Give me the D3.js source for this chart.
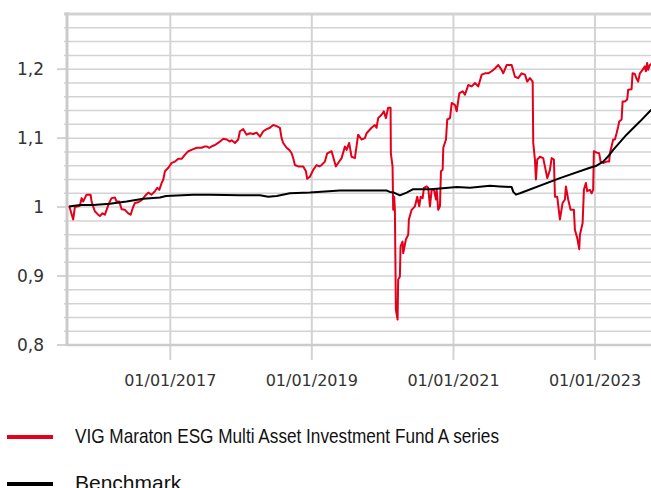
<!DOCTYPE html>
<html>
<head>
<meta charset="utf-8">
<script src="https://cdn.jsdelivr.net/npm/d3@7"></script>
<style>
  html, body { margin: 0; padding: 0; background: #fff; }
  svg { display: block; }
</style>
</head>
<body>
<svg id="chart" width="651" height="488"></svg>
<script>
// Values.
// Dates are given as decimal years, values as index (start = 1).

const yTicks = [0.8, 0.9, 1.0, 1.1, 1.2];
const xTicks = ["2017-01-01", "2019-01-01", "2021-01-01", "2023-01-01"];
const xTickLabels = ["01/01/2017", "01/01/2019", "01/01/2021", "01/01/2023"];
const seriesNames = ["VIG Maraton ESG Multi Asset Investment Fund A series", "Benchmark"];

const fundSeries = [
  [2015.573,1.002],[2015.630,0.982],[2015.654,1.000],[2015.725,1.002],[2015.749,1.013],[2015.771,1.008],
  [2015.819,1.018],[2015.842,1.018],[2015.876,1.018],[2015.890,1.008],[2015.912,1.001],[2015.936,0.994],
  [2015.983,0.989],[2016.007,0.987],[2016.045,0.991],[2016.078,0.989],[2016.102,0.996],[2016.138,1.006],
  [2016.172,1.013],[2016.219,1.014],[2016.243,1.008],[2016.280,1.008],[2016.314,0.997],[2016.360,0.996],
  [2016.407,0.991],[2016.441,0.989],[2016.469,0.998],[2016.501,1.006],[2016.548,1.007],[2016.596,1.010],
  [2016.643,1.016],[2016.689,1.021],[2016.737,1.018],[2016.784,1.023],[2016.816,1.028],[2016.845,1.025],
  [2016.879,1.035],[2016.901,1.040],[2016.925,1.052],[2016.972,1.057],[2017.020,1.064],[2017.066,1.066],
  [2017.113,1.070],[2017.161,1.070],[2017.208,1.076],[2017.254,1.081],[2017.325,1.084],[2017.373,1.086],
  [2017.444,1.086],[2017.490,1.088],[2017.514,1.088],[2017.551,1.086],[2017.585,1.088],[2017.631,1.090],
  [2017.702,1.095],[2017.749,1.099],[2017.797,1.098],[2017.843,1.095],[2017.867,1.097],[2017.914,1.093],
  [2017.960,1.098],[2017.984,1.110],[2018.031,1.113],[2018.079,1.105],[2018.126,1.107],[2018.172,1.106],
  [2018.220,1.108],[2018.267,1.102],[2018.314,1.110],[2018.362,1.113],[2018.408,1.115],[2018.455,1.119],
  [2018.511,1.117],[2018.549,1.115],[2018.573,1.100],[2018.596,1.093],[2018.644,1.086],[2018.681,1.083],
  [2018.715,1.078],[2018.737,1.071],[2018.761,1.061],[2018.808,1.059],[2018.879,1.059],[2018.917,1.052],
  [2018.935,1.041],[2018.973,1.044],[2019.020,1.054],[2019.068,1.061],[2019.105,1.059],[2019.138,1.061],
  [2019.185,1.066],[2019.218,1.078],[2019.280,1.081],[2019.326,1.064],[2019.340,1.059],[2019.373,1.064],
  [2019.421,1.071],[2019.468,1.088],[2019.492,1.083],[2019.528,1.093],[2019.562,1.073],[2019.609,1.071],
  [2019.655,1.105],[2019.703,1.098],[2019.750,1.100],[2019.774,1.107],[2019.845,1.115],[2019.891,1.119],
  [2019.915,1.115],[2019.938,1.129],[2019.986,1.134],[2020.018,1.139],[2020.047,1.129],[2020.079,1.144],
  [2020.113,1.144],[2020.117,1.078],[2020.141,1.059],[2020.150,0.996],[2020.164,1.015],[2020.174,0.996],
  [2020.188,0.851],[2020.212,0.837],[2020.220,0.895],[2020.244,0.899],[2020.254,0.943],[2020.282,0.950],
  [2020.291,0.933],[2020.329,0.953],[2020.362,0.960],[2020.371,0.982],[2020.410,0.996],[2020.456,1.001],
  [2020.489,1.015],[2020.517,1.001],[2020.537,1.015],[2020.565,1.013],[2020.583,1.028],[2020.621,1.030],
  [2020.644,1.028],[2020.668,1.001],[2020.692,1.025],[2020.725,1.025],[2020.753,1.011],[2020.763,1.025],
  [2020.785,0.996],[2020.809,1.001],[2020.823,1.052],[2020.847,1.054],[2020.856,1.086],[2020.894,1.098],
  [2020.912,1.127],[2020.951,1.129],[2020.975,1.151],[2021.021,1.148],[2021.045,1.139],[2021.082,1.165],
  [2021.130,1.168],[2021.162,1.163],[2021.209,1.177],[2021.257,1.175],[2021.304,1.180],[2021.350,1.175],
  [2021.398,1.192],[2021.445,1.194],[2021.491,1.194],[2021.539,1.197],[2021.586,1.201],[2021.633,1.206],
  [2021.681,1.199],[2021.703,1.194],[2021.751,1.206],[2021.822,1.206],[2021.869,1.189],[2021.915,1.187],
  [2021.963,1.194],[2022.010,1.192],[2022.042,1.182],[2022.080,1.187],[2022.119,1.182],[2022.127,1.093],
  [2022.151,1.069],[2022.165,1.040],[2022.184,1.069],[2022.222,1.073],[2022.268,1.071],[2022.292,1.059],
  [2022.325,1.042],[2022.363,1.054],[2022.387,1.071],[2022.419,1.069],[2022.434,1.015],[2022.466,1.015],
  [2022.504,0.982],[2022.542,1.006],[2022.575,1.011],[2022.589,1.030],[2022.621,1.011],[2022.655,0.996],
  [2022.702,0.996],[2022.716,0.967],[2022.749,0.955],[2022.777,0.939],[2022.787,0.960],[2022.825,0.977],
  [2022.843,1.025],[2022.871,1.035],[2022.890,1.023],[2022.928,1.025],[2022.952,1.020],[2022.974,1.025],
  [2022.984,1.081],[2023.022,1.079],[2023.059,1.078],[2023.079,1.066],[2023.116,1.064],[2023.164,1.066],
  [2023.200,1.066],[2023.210,1.078],[2023.234,1.088],[2023.257,1.098],[2023.281,1.098],[2023.305,1.107],
  [2023.328,1.117],[2023.342,1.124],[2023.376,1.127],[2023.390,1.153],[2023.422,1.153],[2023.455,1.156],
  [2023.469,1.170],[2023.517,1.171],[2023.531,1.194],[2023.564,1.193],[2023.588,1.186],[2023.610,1.182],
  [2023.634,1.194],[2023.672,1.199],[2023.705,1.204],[2023.719,1.197],[2023.737,1.209],[2023.751,1.199],
  [2023.775,1.206],[2023.804,1.208]
];

const benchSeries = [
  [2015.573,1.001],[2015.725,1.003],[2015.912,1.003],[2016.148,1.005],[2016.384,1.008],[2016.619,1.012],
  [2016.855,1.014],[2016.939,1.016],[2017.325,1.018],[2017.561,1.018],[2017.984,1.017],[2018.267,1.017],
  [2018.384,1.015],[2018.503,1.016],[2018.690,1.020],[2018.973,1.021],[2019.397,1.024],[2019.679,1.024],
  [2020.056,1.024],[2020.103,1.022],[2020.160,1.021],[2020.244,1.017],[2020.339,1.021],[2020.432,1.026],
  [2020.668,1.026],[2020.809,1.027],[2021.045,1.029],[2021.233,1.028],[2021.515,1.031],[2021.657,1.030],
  [2021.822,1.029],[2021.845,1.022],[2021.883,1.018],[2021.939,1.020],[2022.504,1.042],[2022.928,1.057],
  [2023.022,1.060],[2023.116,1.066],[2023.190,1.074],[2023.257,1.083],[2023.446,1.105],[2023.634,1.124],
  [2023.775,1.139],[2023.804,1.142]
];

const seriesColors = ["#e2001a", "#000000"];

// decimal year -> Date
function yearToDate(t) {
  const y = Math.floor(t);
  const s = Date.UTC(y, 0, 1), e = Date.UTC(y + 1, 0, 1);
  return new Date(s + (t - y) * (e - s));
}

const svg = d3.select("#chart");

const plot = { left: 67, top: 14, right: 651, bottom: 345 };

// x: 01/01/2017 sits at 170.3px, 01/01/2023 at 595px
const x = d3.scaleUtc()
  .domain([new Date(Date.UTC(2017, 0, 1)), new Date(Date.UTC(2023, 0, 1))])
  .range([170.3, 595]);

const y = d3.scaleLinear()
  .domain([0.8, 1.28])
  .range([plot.bottom, plot.top]);

const gridColor = "#d3d3d3";

// horizontal grid every 0.02
const minorTicks = d3.range(0, 25).map(i => +(0.8 + i * 0.02).toFixed(2));
svg.append("g")
  .selectAll("line")
  .data(minorTicks)
  .join("line")
  .attr("x1", plot.left - 3)
  .attr("x2", plot.right)
  .attr("y1", d => y(d))
  .attr("y2", d => y(d))
  .attr("stroke", gridColor)
  .attr("stroke-width", d => (Math.abs(d - 1.28) < 1e-6 ? 3 : 1.5));

// major tick stubs on the left
svg.append("g")
  .selectAll("line")
  .data(yTicks)
  .join("line")
  .attr("x1", plot.left - 10)
  .attr("x2", plot.left)
  .attr("y1", d => y(d))
  .attr("y2", d => y(d))
  .attr("stroke", gridColor)
  .attr("stroke-width", 2);

// vertical grid + ticks
const xDates = xTicks.map(s => new Date(s + "T00:00:00Z"));
svg.append("g")
  .selectAll("line")
  .data(xDates)
  .join("line")
  .attr("x1", d => x(d))
  .attr("x2", d => x(d))
  .attr("y1", plot.top)
  .attr("y2", plot.bottom + 15)
  .attr("stroke", gridColor)
  .attr("stroke-width", 2);

// left axis & bottom axis lines
svg.append("line")
  .attr("x1", plot.left).attr("x2", plot.left)
  .attr("y1", plot.top - 1.5).attr("y2", plot.bottom + 1)
  .attr("stroke", "#cbcbcb").attr("stroke-width", 3);
svg.append("line")
  .attr("x1", plot.left).attr("x2", plot.right)
  .attr("y1", plot.bottom).attr("y2", plot.bottom)
  .attr("stroke", "#cbcbcb").attr("stroke-width", 2.5);

// y labels
svg.append("g")
  .selectAll("text")
  .data(yTicks)
  .join("text")
  .attr("x", 44)
  .attr("y", d => y(d))
  .attr("dy", "0.36em")
  .attr("text-anchor", "end")
  .attr("font-family", "'DejaVu Sans', Verdana, sans-serif")
  .attr("font-size", 17)
  .attr("fill", "#333")
  .text(d => String(+d.toFixed(1)).replace(".", ","));

// x labels
svg.append("g")
  .selectAll("text")
  .data(xDates)
  .join("text")
  .attr("x", d => x(d))
  .attr("y", 386)
  .attr("text-anchor", "middle")
  .attr("font-family", "'DejaVu Sans', Verdana, sans-serif")
  .attr("font-size", 16)
  .attr("fill", "#333")
  .text((d, i) => xTickLabels[i]);

// series
svg.append("defs").append("clipPath").attr("id", "plotClip")
  .append("rect")
  .attr("x", plot.left).attr("y", plot.top - 2)
  .attr("width", plot.right - plot.left + 2)
  .attr("height", plot.bottom - plot.top + 4);

const line = d3.line()
  .x(d => x(yearToDate(d[0])))
  .y(d => y(d[1]));

const lines = svg.append("g").attr("clip-path", "url(#plotClip)");
[fundSeries, benchSeries].forEach((s, i) => {
  lines.append("path")
    .datum(s)
    .attr("d", line)
    .attr("fill", "none")
    .attr("stroke", seriesColors[i])
    .attr("stroke-width", 2)
    .attr("stroke-linejoin", "round");
});

// legend
const legendY = [437, 484];
const legend = svg.append("g");
seriesNames.forEach((name, i) => {
  legend.append("line")
    .attr("x1", 7).attr("x2", 53)
    .attr("y1", legendY[i]).attr("y2", legendY[i])
    .attr("stroke", seriesColors[i])
    .attr("stroke-width", 4);
  const t = legend.append("text")
    .attr("x", 75)
    .attr("y", legendY[i] + 6)
    .attr("font-family", "'Liberation Sans Narrow', 'Arial Narrow', 'Liberation Sans', Arial, sans-serif")
    .attr("font-size", 21)
    .attr("fill", "#111")
    .text(name);
  if (i === 0) t.attr("textLength", 424).attr("lengthAdjust", "spacingAndGlyphs");
});
</script>
</body>
</html>
